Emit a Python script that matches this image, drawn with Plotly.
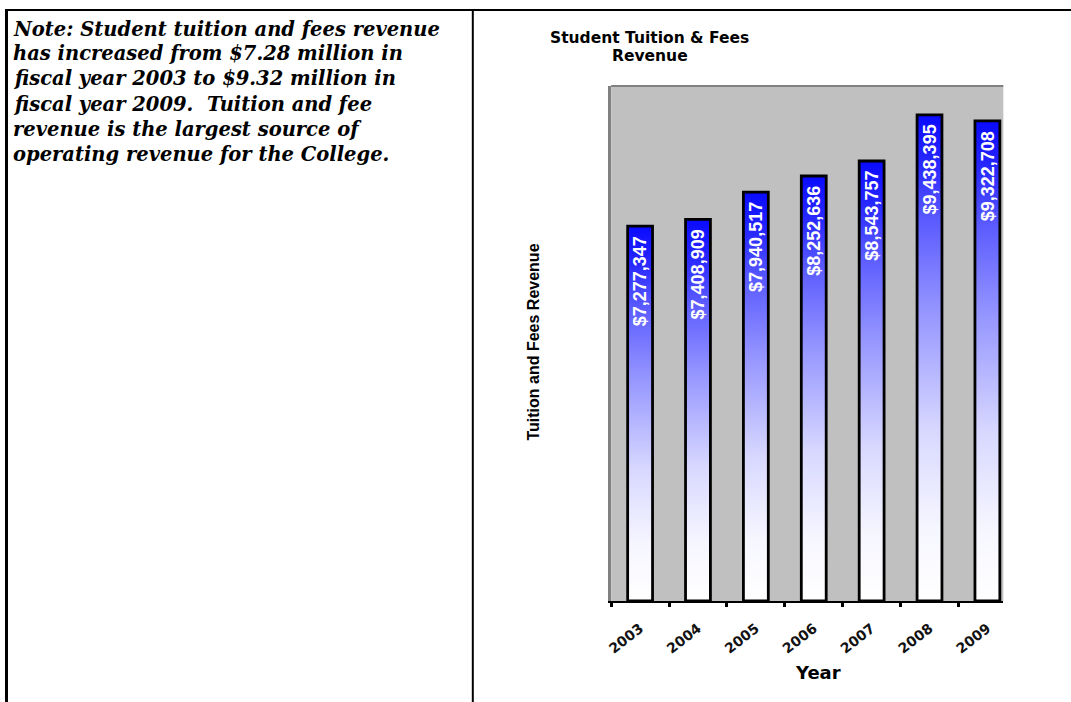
import plotly.graph_objects as go

# Fiscal years and tuition & fees revenue (dollars)
years = ["2003", "2004", "2005", "2006", "2007", "2008", "2009"]
revenue = [7277347, 7408909, 7940517, 8252636, 8543757, 9438395, 9322708]

note_lines = [
    "Note: Student tuition and fees revenue",
    "has increased from $7.28 million in",
    "fiscal year 2003 to $9.32 million in",
    "fiscal year 2009.  Tuition and fee",
    "revenue is the largest source of",
    "operating revenue for the College.",
]

W, H = 1071, 702
BAR_W = 0.43

# white at the base of each bar, deep blue at its top
bar_gradient = [
    [0.0, "#ffffff"],
    [0.15, "#f6f6ff"],
    [0.35, "#d8d8ff"],
    [0.60, "#9494ff"],
    [0.78, "#5c5cff"],
    [0.90, "#2828ff"],
    [1.0, "#0a0aff"],
]


def px_x(p):
    return p / W


def px_y(p):
    return 1 - p / H


fig = go.Figure()

for i, v in enumerate(revenue):
    x0, x1 = i - BAR_W / 2, i + BAR_W / 2
    fig.add_trace(go.Scatter(
        x=[x0, x0, x1, x1, x0],
        y=[0, v, v, 0, 0],
        mode="lines",
        fill="toself",
        fillgradient=dict(type="vertical", colorscale=bar_gradient),
        line=dict(color="black", width=2.8),
        hoverinfo="skip",
        showlegend=False,
    ))

annotations = []

# value labels, written upward inside the top of each bar
label_font = dict(family="Liberation Sans, Arial, sans-serif", size=18, color="white", weight="bold")
for i, v in enumerate(revenue):
    annotations.append(dict(
        x=i, y=v, xref="x", yref="y",
        text=f"${v:,}", textangle=-90,
        xanchor="center", yanchor="top", yshift=-8,
        showarrow=False, font=label_font,
    ))

# chart title, two lines
title_font = dict(family="DejaVu Sans", size=15.5, color="black", weight="bold")
for text, y in (("Student Tuition & Fees", 38), ("Revenue", 56)):
    annotations.append(dict(
        x=px_x(648), y=px_y(y), xref="paper", yref="paper",
        text=text, showarrow=False, xanchor="center", yanchor="middle",
        font=title_font,
    ))

# axis titles
annotations.append(dict(
    x=px_x(530), y=px_y(342), xref="paper", yref="paper",
    text="Tuition and Fees Revenue", textangle=-90,
    showarrow=False, xanchor="center", yanchor="middle",
    font=dict(family="Liberation Sans, Arial, sans-serif", size=16, color="black", weight="bold"),
))
annotations.append(dict(
    x=px_x(817), y=px_y(672), xref="paper", yref="paper",
    text="Year", showarrow=False, xanchor="center", yanchor="middle",
    font=dict(family="DejaVu Sans", size=18, color="black", weight="bold"),
))

# note text in the left cell
for k, line in enumerate(note_lines):
    annotations.append(dict(
        x=px_x(6), y=px_y(29 + 25 * k), xref="paper", yref="paper",
        text=line, showarrow=False, xanchor="left", yanchor="middle",
        font=dict(family="DejaVu Serif, serif", size=19.5,
                  color="black", weight="bold", style="italic"),
    ))

shapes = [
    # table borders
    dict(type="line", xref="paper", yref="paper", x0=px_x(1.5), x1=px_x(1.5), y0=px_y(10), y1=0,
         line=dict(color="black", width=3)),
    dict(type="line", xref="paper", yref="paper", x0=0, x1=1, y0=px_y(10), y1=px_y(10),
         line=dict(color="black", width=2)),
    dict(type="line", xref="paper", yref="paper", x0=px_x(470), x1=px_x(470), y0=px_y(10), y1=0,
         line=dict(color="black", width=2)),
    # top edge of the plot area
    dict(type="line", xref="x domain", yref="y domain", x0=0, x1=1, y0=1, y1=1,
         line=dict(color="#808080", width=2)),
]

boundaries = [i - 0.5 for i in range(len(years) + 1)]

fig.update_layout(
    width=W, height=H,
    margin=dict(l=0, r=0, t=0, b=0),
    paper_bgcolor="white",
    plot_bgcolor="#c0c0c0",
    showlegend=False,
    annotations=annotations,
    shapes=shapes,
    xaxis=dict(
        domain=[px_x(609), px_x(1003)],
        range=[-0.5, 6.275],
        tickmode="array", tickvals=list(range(len(years))), ticktext=years,
        tickangle=-38, ticks="", ticklen=0, ticklabelstandoff=12,
        tickfont=dict(family="DejaVu Sans", size=14, color="#111", weight="bold"),
        showline=True, linecolor="black", linewidth=2,
        showgrid=False, zeroline=False,
        minor=dict(tickmode="array", tickvals=boundaries, ticks="outside",
                   ticklen=4, tickwidth=3, tickcolor="black", showgrid=False),
    ),
    yaxis=dict(
        domain=[px_y(601), px_y(86)],
        range=[0, 10000000],
        showticklabels=False, ticks="",
        showline=True, linecolor="#808080", linewidth=3,
        showgrid=False, zeroline=False,
    ),
)

fig.write_html("out.html")
